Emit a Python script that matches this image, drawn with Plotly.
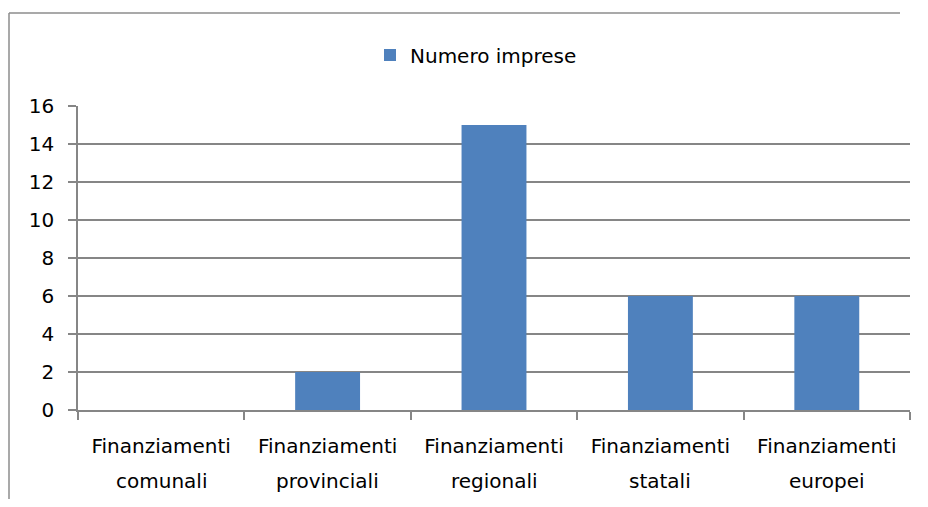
import plotly.graph_objects as go

categories = ["Finanziamenti comunali", "Finanziamenti provinciali", "Finanziamenti regionali",
              "Finanziamenti statali", "Finanziamenti europei"]
values = [0, 2, 15, 6, 6]
series_name = "Numero imprese"
y_ticks = [0, 2, 4, 6, 8, 10, 12, 14, 16]

# figure is placed with the page's default 8px body margin
OFF = 8
W, H = 912, 491
L, R, T, B = 70, 10, 98, 89
pw, ph = W - L - R, H - T - B


def px_x(p):  # page x -> paper x
    return (p - OFF - L) / pw


def px_y(p):  # page y -> paper y
    return (H - B - (p - OFF)) / ph


line1 = [c.split(" ", 1)[0] for c in categories]
line2 = [c.split(" ", 1)[1] for c in categories]

FONT = "DejaVu Sans"
FS = 20
grey = "#868686"

fig = go.Figure()
fig.add_trace(go.Bar(x=categories, y=values, name=series_name, marker_color="#4F81BD",
                     marker_line_width=0, showlegend=True))

annotations = [dict(x=c, y=px_y(481), xref="x", yref="paper", text=t, showarrow=False,
                    xanchor="center", yanchor="middle", font=dict(family=FONT, size=FS, color="#000"))
               for c, t in zip(categories, line2)]

border = dict(color="#8c8c8c", width=1.5)
fig.update_layout(
    width=W, height=H,
    margin=dict(l=L, r=R, t=T, b=B),
    paper_bgcolor="white", plot_bgcolor="white",
    bargap=0.61,
    font=dict(family=FONT, color="#000000", size=FS),
    showlegend=True,
    legend=dict(orientation="h", x=px_x(476), xanchor="center", y=px_y(55), yanchor="middle",
                font=dict(family=FONT, size=FS), itemwidth=30, bgcolor="rgba(0,0,0,0)"),
    xaxis=dict(type="category", tickvals=categories, ticktext=line1,
               showline=True, linecolor=grey, linewidth=1.5, ticks="outside",
               tickson="boundaries", ticklen=8, tickcolor=grey, tickwidth=1.5,
               ticklabelstandoff=17,
               showgrid=False, tickfont=dict(family=FONT, size=FS)),
    yaxis=dict(range=[0, 16], tickvals=y_ticks, showline=True, linecolor=grey, linewidth=1.5,
               ticks="outside", ticklen=8, tickcolor=grey, tickwidth=1.5, ticklabelstandoff=10,
               showgrid=True, gridcolor=grey, gridwidth=1.5, zeroline=False,
               tickfont=dict(family=FONT, size=FS)),
    annotations=annotations,
    shapes=[
        dict(type="line", xref="paper", yref="paper", x0=px_x(9), x1=px_x(9),
             y0=px_y(520), y1=px_y(13), line=border, layer="below"),
        dict(type="line", xref="paper", yref="paper", x0=px_x(9), x1=px_x(900),
             y0=px_y(13), y1=px_y(13), line=border, layer="below"),
    ],
)

fig.write_html("out.html")
